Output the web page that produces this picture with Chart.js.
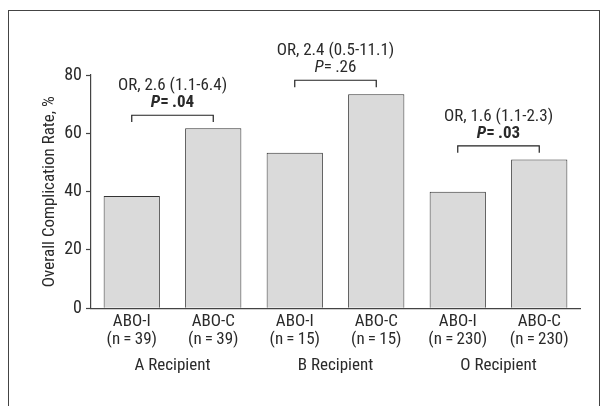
<!DOCTYPE html>
<html>
<head>
<meta charset="utf-8">
<script src="https://cdn.jsdelivr.net/npm/chart.js@4.4.1/dist/chart.umd.min.js"></script>
<style>
  html, body { margin: 0; padding: 0; background: #fff; overflow: hidden; }
  #wrap { position: relative; width: 602px; height: 406px; overflow: hidden; }
  canvas { display: block; }
  /* figure frame, its bottom edge is cut off in the figure */
  #frame {
    position: absolute; left: 8px; top: 10px; width: 590px; height: 440px;
    border: 1.5px solid #444; pointer-events: none;
  }
</style>
</head>
<body>
<div id="wrap"><canvas id="myChart" width="602" height="406"></canvas><div id="frame"></div></div>
<script>
// categories and values
const barLabels = [
  ['ABO-I', '(n\u2009=\u200939)'], ['ABO-C', '(n\u2009=\u200939)'],
  ['ABO-I', '(n\u2009=\u200915)'], ['ABO-C', '(n\u2009=\u200915)'],
  ['ABO-I', '(n\u2009=\u2009230)'], ['ABO-C', '(n\u2009=\u2009230)']
];
const groupLabels = ['A Recipient', 'B Recipient', 'O Recipient'];
const rates = [38.5, 61.7, 53.3, 73.4, 40.0, 51.0];
const yTicks = [0, 20, 40, 60, 80];

// comparison brackets: which bars, height of bracket, and the texts above it
const bracketPairs = [[0, 1], [2, 3], [4, 5]];
const bracketTop = [66.2, 78.2, 55.7];
const bracketFoot = [63.9, 75.8, 53.3];
const orTexts = ['OR, 2.6 (1.1-6.4)', 'OR, 2.4 (0.5-11.1)', 'OR, 1.6 (1.1-2.3)'];
const pTexts = ['=\u2009.04', '=\u2009.26', '=\u2009.03'];
const pBold = [true, false, true];

const FONT = "'Roboto Condensed', 'DejaVu Sans Condensed', sans-serif";
const INK = '#2a2a2a';

const brackets = {
  id: 'brackets',
  afterDraw(chart) {
    const ctx = chart.ctx;
    const x = chart.scales.x;
    const y = chart.scales.y;
    ctx.save();
    ctx.strokeStyle = '#222';
    ctx.lineWidth = 1.2;
    ctx.fillStyle = INK;
    ctx.textBaseline = 'middle';
    for (let i = 0; i < bracketPairs.length; i++) {
      const x1 = x.getPixelForValue(bracketPairs[i][0]);
      const x2 = x.getPixelForValue(bracketPairs[i][1]);
      const yt = y.getPixelForValue(bracketTop[i]);
      const yb = y.getPixelForValue(bracketFoot[i]);
      ctx.beginPath();
      ctx.moveTo(x1, yb);
      ctx.lineTo(x1, yt);
      ctx.lineTo(x2, yt);
      ctx.lineTo(x2, yb);
      ctx.stroke();

      const cx = (x1 + x2) / 2;
      ctx.textAlign = 'center';
      ctx.font = '17px ' + FONT;
      ctx.fillText(orTexts[i], cx, yt - 29);

      // P value: italic P followed by the number
      const w = pBold[i] ? 'bold ' : '';
      ctx.font = 'italic ' + w + '17px ' + FONT;
      const wp = ctx.measureText('P').width;
      ctx.font = w + '17px ' + FONT;
      const wr = ctx.measureText(pTexts[i]).width;
      const sx = cx - (wp + wr) / 2;
      ctx.textAlign = 'left';
      ctx.font = 'italic ' + w + '17px ' + FONT;
      ctx.fillText('P', sx, yt - 12);
      ctx.font = w + '17px ' + FONT;
      ctx.fillText(pTexts[i], sx + wp, yt - 12);
    }
    ctx.restore();
  }
};

const config = {
  type: 'bar',
  data: {
    labels: barLabels,
    datasets: [{
      data: rates,
      backgroundColor: '#dadada',
      borderColor: '#333',
      borderWidth: 1,
      categoryPercentage: 1,
      barPercentage: 0.69
    }]
  },
  options: {
    responsive: false,
    animation: false,
    events: [],
    layout: { padding: { left: 0, right: 22, top: 75, bottom: 0 } },
    plugins: { legend: { display: false }, tooltip: { enabled: false } },
    scales: {
      x: {
        position: 'bottom',
        grid: { display: false, tickLength: 0 },
        border: { display: true, color: '#444', width: 1.2 },
        ticks: {
          color: INK,
          font: { family: FONT, size: 17, lineHeight: 1.04 },
          padding: 5,
          maxRotation: 0,
          autoSkip: false
        },
        afterFit(s) { s.height = 40; }
      },
      groups: {
        type: 'category',
        labels: groupLabels,
        position: 'bottom',
        grid: { display: false, tickLength: 0 },
        border: { display: false },
        ticks: {
          color: INK,
          font: { family: FONT, size: 17, lineHeight: 1.2 },
          padding: 7,
          maxRotation: 0,
          autoSkip: false
        },
        afterFit(s) { s.height = 57.7; }
      },
      y: {
        min: 0,
        max: 80,
        afterBuildTicks(s) { s.ticks = yTicks.map(v => ({ value: v })); },
        grid: { drawOnChartArea: false, tickLength: 5, color: '#444', tickWidth: 1.2 },
        border: { display: true, color: '#444', width: 1.2 },
        ticks: {
          color: INK,
          font: { family: FONT, size: 18 },
          padding: 4
        },
        title: {
          display: true,
          text: 'Overall Complication Rate, %',
          color: INK,
          font: { family: FONT, size: 17 },
          padding: { top: 40, bottom: 0 }
        },
        afterFit(s) { s.width = 91; }
      }
    }
  },
  plugins: [brackets]
};

new Chart(document.getElementById('myChart'), config);
</script>
</body>
</html>
